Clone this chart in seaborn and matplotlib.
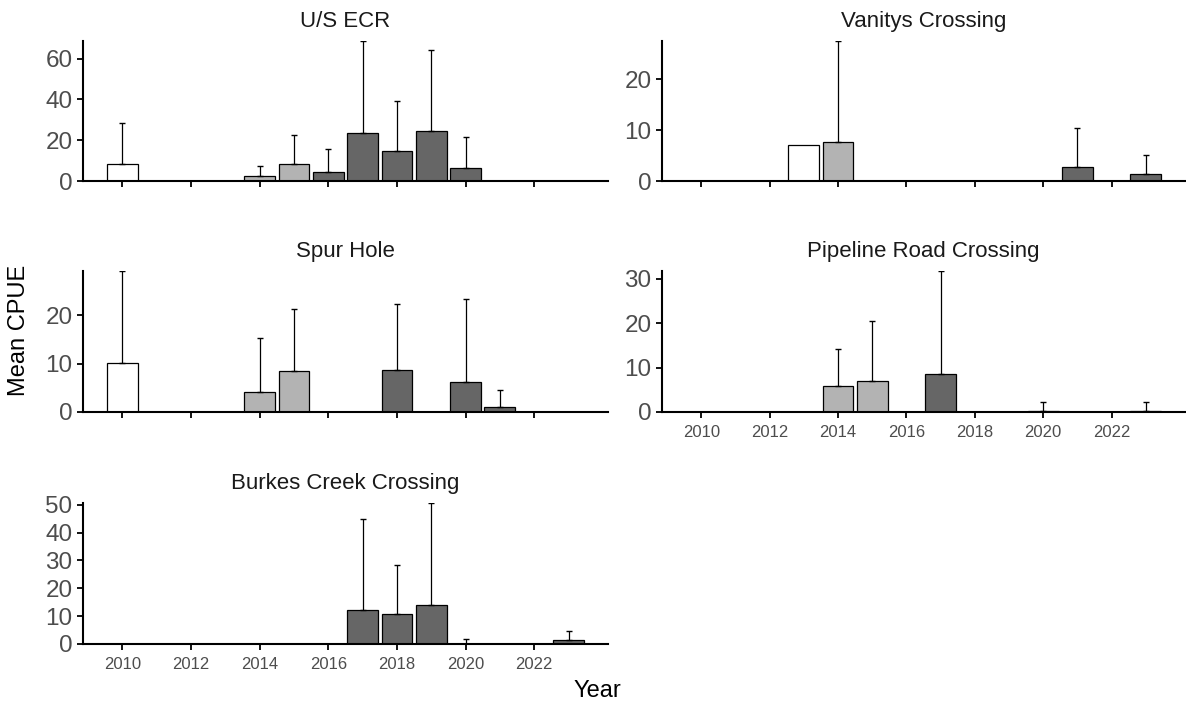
import numpy as np
import pandas as pd
import matplotlib
matplotlib.use("Agg")
import matplotlib.pyplot as plt
import seaborn as sns

# ---------------- data ----------------
sites = ["U/S ECR", "Vanitys Crossing", "Spur Hole",
         "Pipeline Road Crossing", "Burkes Creek Crossing"]

usecr_years = [2010, 2014, 2015, 2016, 2017, 2018, 2019, 2020]
usecr_mean = [8.1, 2.3, 8.1, 4.5, 23.3, 14.9, 24.5, 6.3]
usecr_upper = [28.4, 7.5, 22.7, 15.6, 68.6, 39.2, 64.3, 21.6]

vanitys_years = [2013, 2014, 2021, 2023]
vanitys_mean = [7.0, 7.7, 2.8, 1.4]
vanitys_upper = [np.nan, 27.5, 10.5, 5.1]

spur_years = [2010, 2014, 2015, 2018, 2020, 2021]
spur_mean = [10.1, 4.1, 8.4, 8.6, 6.3, 1.1]
spur_upper = [29.2, 15.4, 21.4, 22.4, 23.4, 4.6]

pipeline_years = [2014, 2015, 2017, 2020, 2023]
pipeline_mean = [5.8, 7.1, 8.6, 0.3, 0.3]
pipeline_upper = [14.3, 20.6, 31.8, 2.3, 2.3]

burkes_years = [2017, 2018, 2019, 2020, 2023]
burkes_mean = [12.2, 10.9, 14.0, 0.05, 1.4]
burkes_upper = [44.9, 28.2, 50.6, 1.8, 4.8]

y_ticks = {
    "U/S ECR": [0, 20, 40, 60],
    "Vanitys Crossing": [0, 10, 20],
    "Spur Hole": [0, 10, 20],
    "Pipeline Road Crossing": [0, 10, 20, 30],
    "Burkes Creek Crossing": [0, 10, 20, 30, 40, 50],
}
x_ticks = [2010, 2012, 2014, 2016, 2018, 2020, 2022]

period_order = ["pre", "mid", "post"]
period_colors = {"pre": "#FFFFFF", "mid": "#B3B3B3", "post": "#666666"}


def period_of(y):
    if y <= 2013:
        return "pre"
    if y <= 2015:
        return "mid"
    return "post"


site_data = {
    "U/S ECR": (usecr_years, usecr_mean, usecr_upper),
    "Vanitys Crossing": (vanitys_years, vanitys_mean, vanitys_upper),
    "Spur Hole": (spur_years, spur_mean, spur_upper),
    "Pipeline Road Crossing": (pipeline_years, pipeline_mean, pipeline_upper),
    "Burkes Creek Crossing": (burkes_years, burkes_mean, burkes_upper),
}

frames = []
for s in sites:
    yrs, m, u = site_data[s]
    frames.append(pd.DataFrame({"site": s, "year": yrs, "mean": m, "upper": u,
                                "period": [period_of(y) for y in yrs]}))
df = pd.concat(frames, ignore_index=True)

# ---------------- styling ----------------
sns.set_theme(style="ticks")
plt.rcParams["font.family"] = ["Liberation Sans", "DejaVu Sans"]

W, H = 1186, 709
fig = plt.figure(figsize=(W / 100, H / 100), dpi=100)

# axes boxes in pixels: (left, top, right, bottom)
boxes = {
    "U/S ECR": (83, 41, 608, 181),
    "Vanitys Crossing": (662, 41, 1185, 181),
    "Spur Hole": (83, 271, 608, 412),
    "Pipeline Road Crossing": (662, 271, 1185, 412),
    "Burkes Creek Crossing": (83, 503, 608, 644),
}
show_xlabels = {"Pipeline Road Crossing", "Burkes Creek Crossing"}

tick_gray = "#4D4D4D"

for s in sites:
    l, t, r, b = boxes[s]
    ax = fig.add_axes([l / W, 1 - b / H, (r - l) / W, (b - t) / H])
    sub = df[df["site"] == s]
    sns.barplot(data=sub, x="year", y="mean", hue="period",
                hue_order=period_order, palette=period_colors,
                native_scale=True, dodge=False, width=0.9,
                errorbar=None, edgecolor="black", linewidth=0.9,
                legend=False, ax=ax, zorder=2)
    eb = sub.dropna(subset=["upper"])
    ax.errorbar(eb["year"], eb["mean"],
                yerr=[np.zeros(len(eb)), eb["upper"] - eb["mean"]],
                fmt="none", ecolor="black", elinewidth=0.9,
                capsize=2.4, capthick=1.0, zorder=3)

    ax.set_xlim(2008.85, 2024.15)
    ax.set_ylim(0, np.nanmax(sub["upper"].values))
    ax.set_xticks(x_ticks)
    ax.set_yticks(y_ticks[s])
    ax.set_xlabel("")
    ax.set_ylabel("")
    sns.despine(ax=ax)
    for sp in ("left", "bottom"):
        ax.spines[sp].set_linewidth(1.5)
        ax.spines[sp].set_color("black")
        ax.spines[sp].set_zorder(4)
    ax.tick_params(axis="both", length=4, width=1.3, color="black")
    ax.tick_params(axis="y", labelsize=17.5, labelcolor=tick_gray, pad=3.5)
    if s in show_xlabels:
        ax.tick_params(axis="x", labelsize=12, labelcolor=tick_gray, pad=5.5)
    else:
        ax.tick_params(axis="x", labelbottom=False)
    ax.set_title(s, fontsize=16, color="#1A1A1A", pad=10)
    ax.set_facecolor("white")

fig.text(19 / W, 1 - 330 / H, "Mean CPUE", rotation=90, fontsize=17,
         ha="center", va="center", color="black")
fig.text(597 / W, 1 - 691 / H, "Year", fontsize=17, ha="center",
         va="center", color="black")

fig.savefig("out.png", dpi=100, facecolor="white")
